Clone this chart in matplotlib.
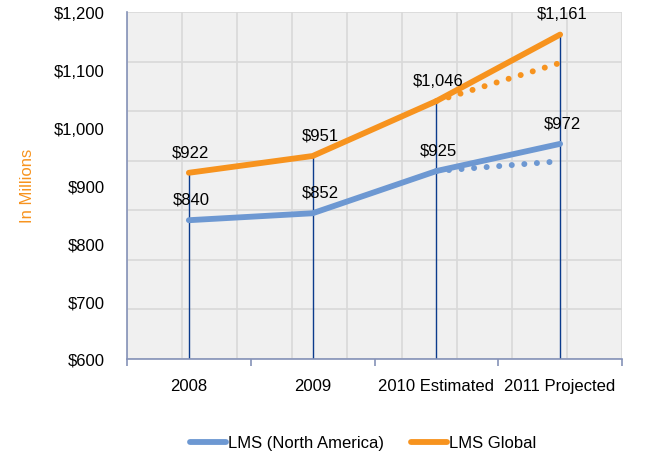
import matplotlib

matplotlib.use("Agg")

import matplotlib.pyplot as plt

plt.rcParams["font.family"] = ["Liberation Sans", "DejaVu Sans"]

categories = ["2008", "2009", "2010 Estimated", "2011 Projected"]
north_america = [840, 852, 925, 972]
global_lms = [922, 951, 1046, 1161]
# dotted projections drawn from the 2010 estimate
na_projection = [None, None, 925, 942]
global_projection = [None, None, 1046, 1112]
y_ticks = [600, 700, 800, 900, 1000, 1100, 1200]

BLUE = "#6d98d2"
ORANGE = "#f7931e"
NAVY = "#0b3b8c"
AXIS = "#8592b8"

fig = plt.figure(figsize=(6.53, 4.56), dpi=100)
rect = [127 / 653, 1 - 360 / 456, 495 / 653, 347 / 456]

# background grid is its own 9 x 7 lattice, not tied to the value ticks
bg = fig.add_axes(rect, zorder=0)
bg.set_facecolor("#f0f0f0")
bg.set_xlim(0, 9)
bg.set_ylim(0, 7)
bg.set_xticks(range(10))
bg.set_yticks(range(8))
bg.grid(True, color="#d9d9d9", linewidth=1.2)
bg.tick_params(length=0, labelbottom=False, labelleft=False)
for s in bg.spines.values():
    s.set_visible(False)

ax = fig.add_axes(rect, zorder=1)
ax.patch.set_alpha(0)
x = list(range(len(categories)))
ax.set_xlim(-0.5, len(categories) - 0.5)
ax.set_ylim(600, 1200)

# drop lines from the top series to the axis
ax.vlines(x, 600, [max(a, b) for a, b in zip(north_america, global_lms)],
          color=NAVY, linewidth=1.0, zorder=2)

# near-zero dashes with round caps give the row of dots
dot_style = dict(linewidth=4.3, linestyle=(0, (0.01, 2.1)), dash_capstyle="round", zorder=3)
ax.plot(x, na_projection, color=BLUE, **dot_style)
ax.plot(x, global_projection, color=ORANGE, **dot_style)

line_style = dict(linewidth=4.2, solid_capstyle="round", solid_joinstyle="round", zorder=4)
ax.plot(x, north_america, color=BLUE, label="LMS (North America)", **line_style)
ax.plot(x, global_lms, color=ORANGE, label="LMS Global", **line_style)

label_dx = [2, 8, 2, 2]
for series in (north_america, global_lms):
    for xi, v, dx in zip(x, series, label_dx):
        ax.annotate(f"${v:,}", (xi, v), xytext=(dx, 21), textcoords="offset pixels",
                    ha="center", va="center", fontsize=12, color="black", zorder=5)

ax.set_yticks(y_ticks)
ax.set_yticklabels([f"${v:,}" for v in y_ticks])
ax.tick_params(axis="y", length=0, pad=16, labelsize=12)

ax.set_xticks(x)
ax.set_xticklabels(categories)
ax.set_xticks([i - 0.5 for i in range(len(categories) + 1)], minor=True)
ax.tick_params(axis="x", which="major", length=0, pad=14, labelsize=12)
ax.tick_params(axis="x", which="minor", length=5, color=AXIS, width=1.2)

for side in ("top", "right"):
    ax.spines[side].set_visible(False)
for side in ("left", "bottom"):
    ax.spines[side].set_color(AXIS)
    ax.spines[side].set_linewidth(1.2)

fig.text(28 / 653, 1 - 186 / 456, "In Millions", rotation=90, ha="center", va="center",
         fontsize=12, color=ORANGE)

fig.legend(loc="center", bbox_to_anchor=(363 / 653, 1 - 444 / 456), ncol=2, frameon=False,
           fontsize=12, handlelength=2.2, handletextpad=0.1, columnspacing=1.6)

fig.savefig("out.png", dpi=100)
